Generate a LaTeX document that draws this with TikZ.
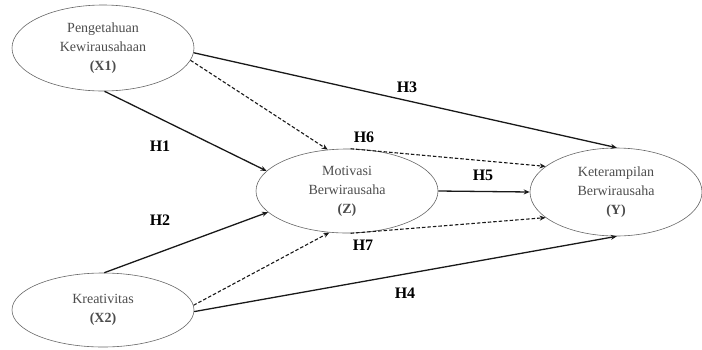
\documentclass[tikz,border=0pt]{standalone}
\usepackage{fontspec}
\setmainfont{Liberation Serif}
\usetikzlibrary{arrows.meta,shapes.geometric}
\begin{document}
\begin{tikzpicture}[x=1pt,y=-1pt,
  var/.style={draw=black!60, line width=0.6pt, ellipse, inner sep=0pt, text=black!70,
    align=center, font=\fontsize{14}{19}\selectfont},
  lab/.style={font=\fontsize{16}{18}\selectfont\bfseries, text=black},
  solidarr/.style={line width=1.3pt, draw=black!90, -{Stealth[length=6pt,width=5pt]}},
  dasharr/.style={line width=1.1pt, draw=black!90, dash pattern=on 3.5pt off 2pt, -{Stealth[length=6pt,width=5pt]}}
]
\useasboundingbox (0,0) rectangle (702,349);
\node[var, minimum width=182pt, minimum height=86pt] (x1) at (103,48) {Pengetahuan\\Kewirausahaan\\\textbf{(X1)}};
\node[var, minimum width=182pt, minimum height=74pt] (x2) at (103,310) {Kreativitas\\\textbf{(X2)}};
\node[var, minimum width=182pt, minimum height=84pt] (z) at (347,191) {Motivasi\\Berwirausaha\\\textbf{(Z)}};
\node[var, minimum width=172pt, minimum height=88pt] (y) at (616,192) {Keterampilan\\Berwirausaha\\\textbf{(Y)}};

\draw[solidarr] (x1.-3) -- (y.89);
\draw[dasharr] (x1.-8) -- (z.115);
\draw[solidarr] (x1.-88) -- (z.166);
\draw[solidarr] (x2.88) -- (z.195);
\draw[dasharr] (x2.3) -- (z.-113);
\draw[solidarr] (x2.-1) -- (y.-89);
\draw[solidarr] (z.east) -- (y.west);
\draw[dasharr] (z.85) -- (y.160);
\draw[dasharr] (z.-85) -- (y.-160);

\node[lab] (h1) at (160,146) {H1};
\node[lab] (h2) at (160,220) {H2};
\node[lab] (h3) at (407,87) {H3};
\node[lab] (h4) at (405,293) {H4};
\node[lab] (h5) at (483,175) {H5};
\node[lab] (h6) at (364,137) {H6};
\node[lab] (h7) at (363,245) {H7};
\end{tikzpicture}
\end{document}
